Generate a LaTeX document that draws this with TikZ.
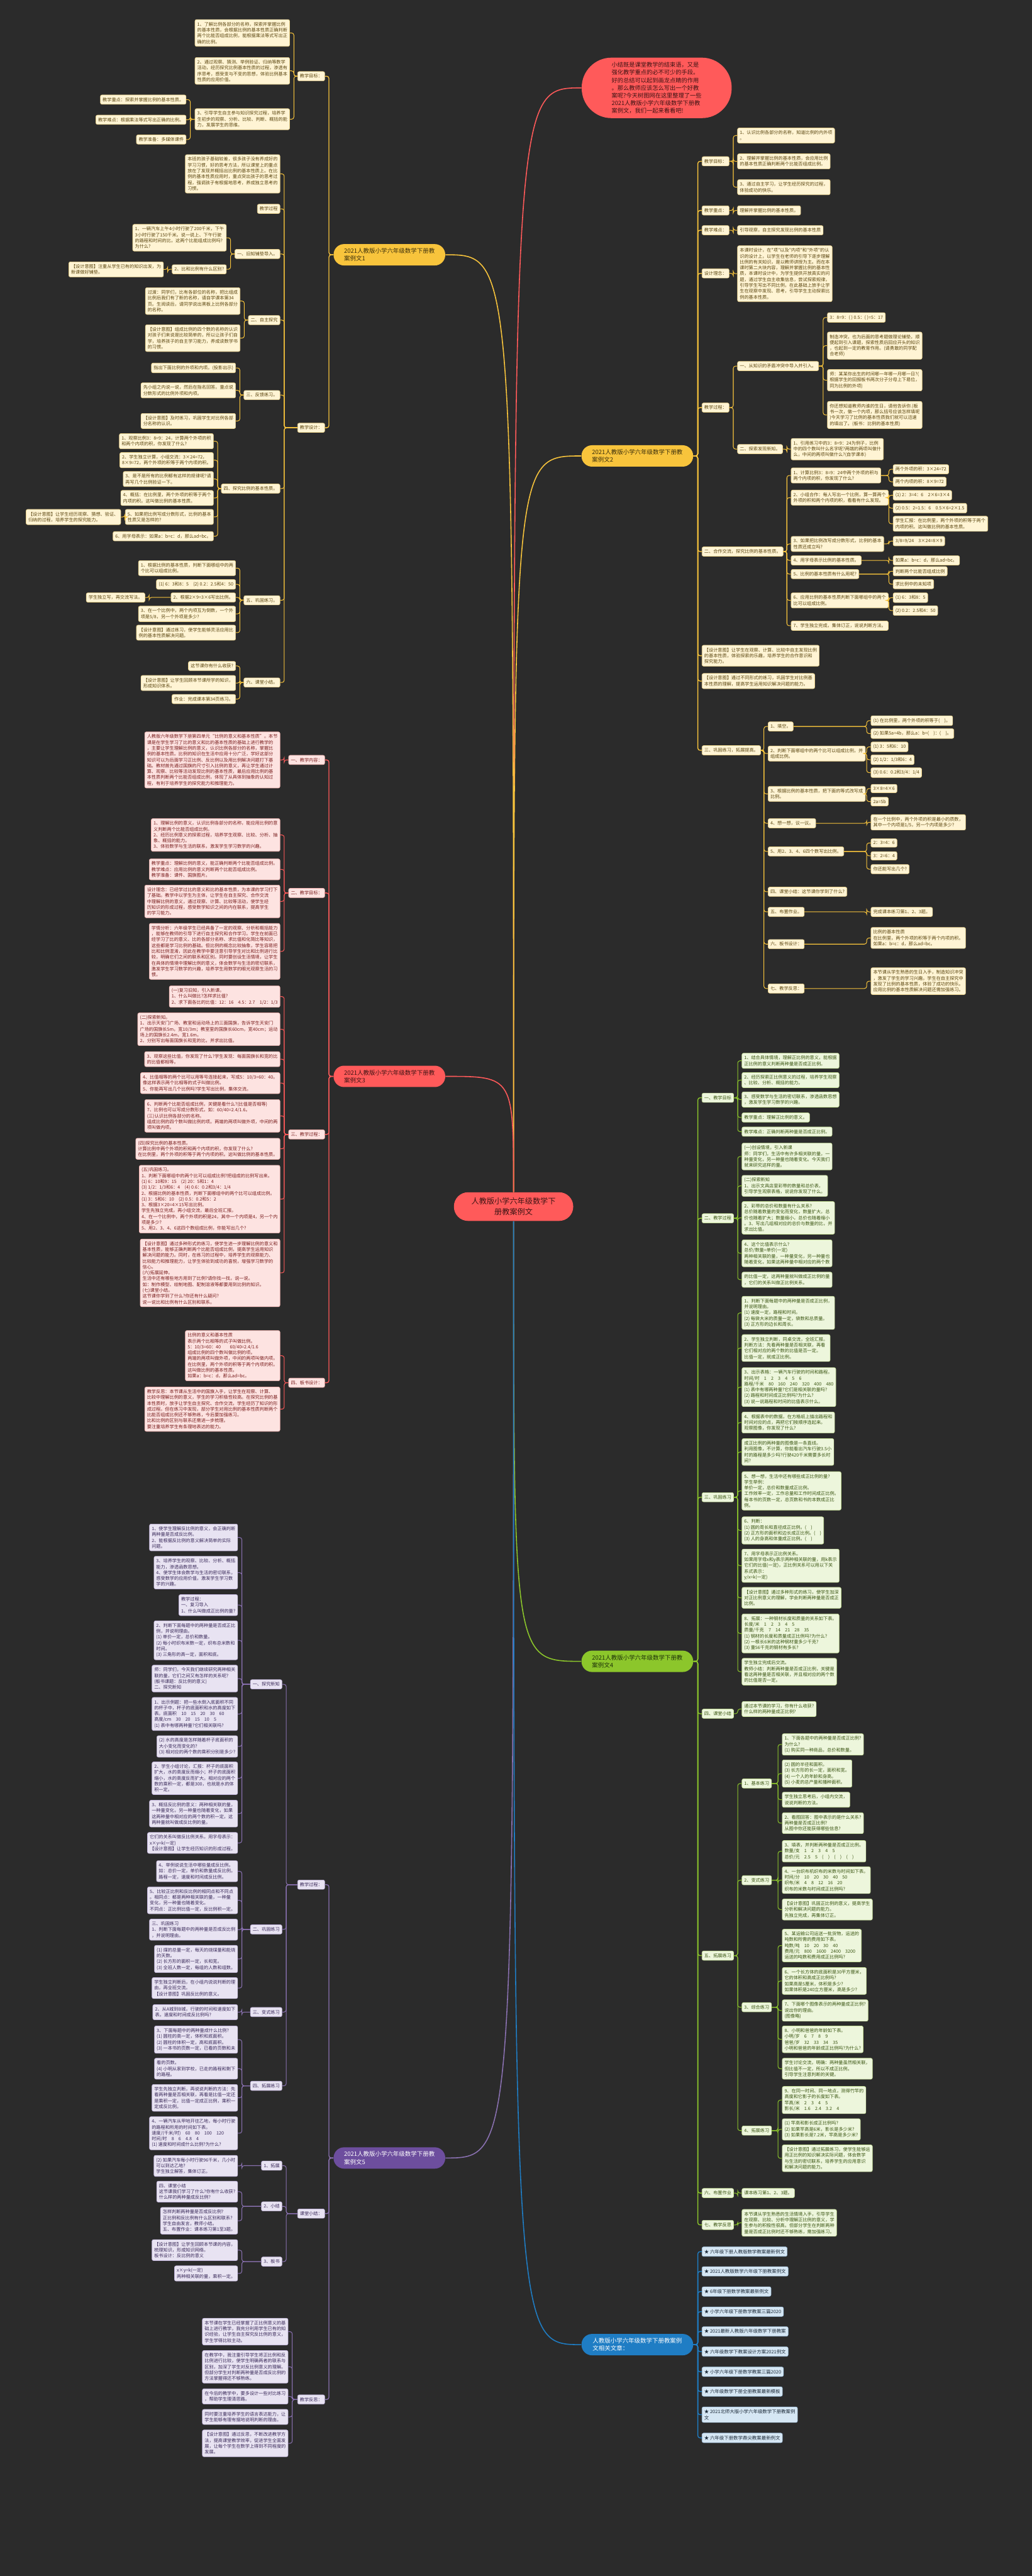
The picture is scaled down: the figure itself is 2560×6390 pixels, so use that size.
\documentclass[tikz,border=0pt]{standalone}
\usepackage{fontspec}
\newfontfamily\cjk{Noto Sans CJK SC}
\definecolor{bgc}{HTML}{2B2B2B}
\definecolor{yl}{HTML}{F8C43C}
\definecolor{ylf}{HTML}{FFF4D4}
\definecolor{ylt}{HTML}{5A4610}
\definecolor{ylb}{HTML}{E9D08A}
\definecolor{ybt}{HTML}{3B2F0C}
\definecolor{rd}{HTML}{FF5A5A}
\definecolor{rdf}{HTML}{FDE3E1}
\definecolor{rdt}{HTML}{7A1E1E}
\definecolor{rdb}{HTML}{F2B3B0}
\definecolor{rbt}{HTML}{3D1414}
\definecolor{gr}{HTML}{8CC62B}
\definecolor{grf}{HTML}{EDF6DC}
\definecolor{grt}{HTML}{3A5512}
\definecolor{grb}{HTML}{C6DF98}
\definecolor{gbt}{HTML}{1E3209}
\definecolor{pu}{HTML}{6D4E9E}
\definecolor{puf}{HTML}{E8E3F2}
\definecolor{put}{HTML}{3A2A5A}
\definecolor{pub}{HTML}{C2B5DC}
\definecolor{bl}{HTML}{1F7DC4}
\definecolor{blf}{HTML}{D6E7F4}
\definecolor{blt}{HTML}{1C2A38}
\definecolor{blb}{HTML}{A6C8E4}
\tikzset{
  lf/.style={font=\cjk\fontsize{3.18pt}{4.12pt}\selectfont, rounded corners=1.1pt,
     inner xsep=1.6pt, inner ysep=1.8pt, align=left, line width=0.3pt},
  ly/.style={lf, fill=ylf, draw=ylb, text=ylt},
  lr/.style={lf, fill=rdf, draw=rdb, text=rdt},
  lg/.style={lf, fill=grf, draw=grb, text=grt},
  lp/.style={lf, fill=puf, draw=pub, text=put},
  lb/.style={lf, fill=blf, draw=blb, text=blt, font=\cjk\fontsize{3.3pt}{4.3pt}\selectfont},
  brn/.style={font=\cjk\fontsize{4.2pt}{5.4pt}\selectfont, align=left, minimum width=27.7mm,
     minimum height=5.3mm, rounded corners=2.6mm, inner xsep=2.6mm, inner ysep=0.5mm},
  lnY/.style={draw=yl, line width=0.45pt, rounded corners=1.6pt},
  lnR/.style={draw=rd, line width=0.45pt, rounded corners=1.6pt},
  lnG/.style={draw=gr, line width=0.45pt, rounded corners=1.6pt},
  lnP/.style={draw=pu!80!white, line width=0.45pt, rounded corners=1.6pt},
  lnB/.style={draw=bl, line width=0.45pt, rounded corners=1.6pt},
  mY/.style={lnY, line width=0.6pt},
  mR/.style={lnR, line width=0.6pt},
  mG/.style={lnG, line width=0.6pt},
  mP/.style={lnP, line width=0.6pt},
  mB/.style={lnB, line width=0.6pt},
}
\newcommand\Lx[5]{\node[#1,anchor=north east] (#2) at (#3,#4) {#5};}
\newcommand\Rx[5]{\node[#1,anchor=north west] (#2) at (#3,#4) {#5};}
\newcommand\Lc[3]{\draw[#1] (#3.east) -- ++(10,0) |- (#2.west);}
\newcommand\Rc[3]{\draw[#1] (#3.west) -- ++(-10,0) |- (#2.east);}
\begin{document}
\begin{tikzpicture}[x=0.1mm,y=-0.1mm]
\fill[bgc] (0,0) rectangle (2560,6390);
\useasboundingbox (0,0) rectangle (2560,6390);

% ---------- main nodes ----------
\node[font=\cjk\fontsize{4.1pt}{5.4pt}\selectfont, align=left, fill=rd, text=rbt,
  minimum width=37.2mm, minimum height=15mm, rounded corners=7.4mm, inner sep=0pt] (top) at (1629,218)
  {小结既是课堂教学的结束语，又是\\强化教学重点的必不可少的手段。\\好的总结可以起到画龙点睛的作用\\。那么教师应该怎么写出一个好教\\案呢?今天树图网在这里整理了一些\\2021人教版小学六年级数学下册教\\案例文，我们一起来看看吧!};
\node[font=\cjk\fontsize{5.4pt}{7.7pt}\selectfont, align=center, fill=rd, text=rbt,
  minimum width=29.6mm, minimum height=7.1mm, rounded corners=3.5mm, inner sep=0pt] (ctr) at (1274,2993)
  {人教版小学六年级数学下\\册教案例文};
\node[brn, fill=yl, text=ybt] (b1) at (966,632) {2021人教版小学六年级数学下册教\\案例文1};
\node[brn, fill=yl, text=ybt] (b2) at (1581,1131) {2021人教版小学六年级数学下册教\\案例文2};
\node[brn, fill=rd, text=rbt] (b3) at (966,2670) {2021人教版小学六年级数学下册教\\案例文3};
\node[brn, fill=gr, text=gbt] (b4) at (1581,4121) {2021人教版小学六年级数学下册教\\案例文4};
\node[brn, fill=pu, text=white] (b5) at (966,5353) {2021人教版小学六年级数学下册教\\案例文5};
\node[brn, fill=bl, text=white] (b6) at (1581,5816) {人教版小学六年级数学下册教案例\\文相关文章：};

% ---------- B1 ----------
\Lx{ly}{t1}{806}{177}{教学目标：}
\Lx{ly}{a1}{719}{48}{1、了解比例各部分的名称，探索并掌握比例\\的基本性质，会根据比例的基本性质正确判断\\两个比能否组成比例，能根据乘法等式写出正\\确的比例。}
\Lx{ly}{a2}{719}{142}{2、通过观察、猜测、举例验证、归纳等数学\\活动，经历探究比例基本性质的过程，渗透有\\序思考，感受变与不变的思想，体验比例基本\\性质的应用价值。}
\Lx{ly}{a3}{719}{269}{3、引导学生自主参与知识探究过程，培养学\\生初步的观察、分析、比较、判断、概括的能\\力，发展学生的思维。}
\Lx{ly}{k1}{462}{235}{教学重点：探索并掌握比例的基本性质。}
\Lx{ly}{k2}{462}{285}{教学难点：根据乘法等式写出正确的比例。}
\Lx{ly}{k3}{462}{334}{教学准备：多媒体课件}
\Lx{ly}{t2}{806}{1049}{教学设计：}
\Lx{ly}{d1}{695}{383}{本班的孩子基础较差，很多孩子没有养成好的\\学习习惯，好的思考方法，所以课堂上的重点\\放在了发现并概括出比例的基本性质上。在比\\例的基本性质应用时，重点突出孩子的思考过\\程，强调孩子有根据地思考，养成独立思考的\\习惯。}
\Lx{ly}{d2}{695}{506}{教学过程}
\Lx{ly}{d3}{695}{618}{一、旧知铺垫导入。}
\Lx{ly}{e1}{562}{556}{1、一辆汽车上午4小时行驶了200千米，下午\\3小时行驶了150千米。说一说上、下午行驶\\的路程和时间的比，这两个比能组成比例吗?\\为什么?}
\Lx{ly}{e2}{562}{656}{2、比和比例有什么区别?}
\Lx{ly}{e3}{406}{649}{【设计意图】注重从学生已有的知识出发，为\\新课做好铺垫。}
\Lx{ly}{d4}{695}{782}{二、自主探究}
\Lx{ly}{f1}{596}{713}{过渡：同学们，比有各部位的名称，把比组成\\比例后我们有了新的名称，请自学课本第34\\页。生阅读后，请同学说出黑板上比例各部分\\的名称。}
\Lx{ly}{f2}{596}{805}{【设计意图】组成比例的四个数的名称的认识\\对孩子们来说是比较简单的，所以让孩子们自\\学，培养孩子的自主学习能力，养成读数学书\\的习惯。}
\Lx{ly}{d5}{695}{968}{三、反馈练习。}
\Lx{ly}{g1}{585}{900}{指出下面比例的外项和内项。(投影出示)}
\Lx{ly}{g2}{585}{949}{先小组之内说一说，然后在指名回答。重点说\\分数形式的比例外项和内项。}
\Lx{ly}{g3}{585}{1025}{【设计意图】及时练习，巩固学生对比例各部\\分名称的认识。}
\Lx{ly}{d6}{695}{1200}{四、探究比例的基本性质。}
\Lx{ly}{h1}{530}{1075}{1、观察比例3：8=9：24，计算两个外项的积\\和两个内项的积，你发现了什么?}
\Lx{ly}{h2}{530}{1122}{2、学生独立计算，小组交流：3×24=72，\\8×9=72，两个外项的积等于两个内项的积。}
\Lx{ly}{h3}{530}{1169}{3、是不是所有的比例都有这样的规律呢?请\\再写几个比例验证一下。}
\Lx{ly}{h4}{530}{1216}{4、概括：在比例里，两个外项的积等于两个\\内项的积。这叫做比例的基本性质。}
\Lx{ly}{h5}{530}{1263}{5、如果把比例写成分数形式，比例的基本\\性质又是怎样的?}
\Lx{ly}{h6}{300}{1263}{【设计意图】让学生经历观察、猜想、验证、\\归纳的过程，培养学生的探究能力。}
\Lx{ly}{h7}{530}{1318}{6、用字母表示：如果a：b=c：d，那么ad=bc。}
\Lx{ly}{d7}{695}{1477}{五、巩固练习。}
\Lx{ly}{i1}{585}{1390}{1、根据比例的基本性质，判断下面哪组中的两\\个比可以组成比例。}
\Lx{ly}{i2}{585}{1437}{(1) 6：3和8：5　(2) 0.2：2.5和4：50}
\Lx{ly}{i3}{585}{1470}{2、根据2×9=3×6写出比例。}
\Lx{ly}{i3b}{360}{1470}{学生独立写，再交流写法。}
\Lx{ly}{i4}{585}{1503}{3、在一个比例中，两个内项互为倒数，一个外\\项是5/8，另一个外项是多少?}
\Lx{ly}{i5}{585}{1550}{【设计意图】通过练习，使学生能够灵活应用比\\例的基本性质解决问题。}
\Lx{ly}{d8}{695}{1681}{六、课堂小结。}
\Lx{ly}{j1}{585}{1640}{这节课你有什么收获?}
\Lx{ly}{j2}{585}{1675}{【设计意图】让学生回顾本节课所学的知识，\\形成知识体系。}
\Lx{ly}{j3}{585}{1722}{作业：完成课本第34页练习。}

% ---------- B2 ----------
\Rx{ly}{u1}{1741}{388}{教学目标：}
\Rx{ly}{v1}{1829}{317}{1、认识比例各部分的名称，知道比例的内外项\\。}
\Rx{ly}{v2}{1829}{381}{2、理解并掌握比例的基本性质，会应用比例\\的基本性质正确判断两个比能否组成比例。}
\Rx{ly}{v3}{1829}{445}{3、通过自主学习，让学生经历探究的过程，\\体验成功的快乐。}
\Rx{ly}{u2}{1741}{510}{教学重点：}
\Rx{ly}{v4}{1829}{510}{理解并掌握比例的基本性质。}
\Rx{ly}{u3}{1741}{559}{教学难点：}
\Rx{ly}{v5}{1829}{559}{引导观察，自主探究发现比例的基本性质}
\Rx{ly}{u4}{1741}{666}{设计理念：}
\Rx{ly}{v6}{1829}{609}{本课时设计，在"项"以及"内项"和"外项"的认\\识的设计上，以学生在老师的引导下逐步理解\\比例的有关知识，是以教师讲授为主。而在本\\课时第二大块内容，理解并掌握比例的基本性\\质，本课时设计中，为学生提供开放真实的问\\题，通过学生自主收集信息，尝试探索规律，\\引导学生写出不同比例，在此基础上放手让学\\生在观察中发现、思考，引导学生主动探索比\\例的基本性质。}
\Rx{ly}{u5}{1741}{999}{教学过程：}
\Rx{ly}{w1}{1829}{896}{一、从知识的矛盾冲突中导入并引入。}
\Rx{ly}{x1}{2052}{775}{3：8=9：( ) 0.5：( )=5：17}
\Rx{ly}{x2}{2052}{823}{制造冲突，也为后面的思考题做理论铺垫，顺\\便起到引入课题，探索性质后回应开头的知识\\，也起到一定的教育作用。(请勇敢的同学配\\合老师)}
\Rx{ly}{x3}{2052}{916}{师：某某你出生的时间哪一年哪一月哪一日?(\\根据学生的回报板书两次分子分母上下易位，\\同为比例的外项)}
\Rx{ly}{x4}{2052}{995}{你还想知道教师内谁的生日，请他告诉你.(板\\书一次，做一个内项，那么括号应该怎样填呢\\)今天学习了比例的基本性质我们就可以迅速\\的填出了。(板书：比例的基本性质)}
\Rx{ly}{w2}{1829}{1102}{二、探索发现新知。}
\Rx{ly}{y1}{1962}{1087}{1、引用练习中的3：8=9：24为例子，比例\\中的四个数叫什么名字呢?两端的两项叫做什\\么，中间的两项叫做什么?(自学课本)}
\Rx{ly}{u6}{1741}{1356}{二、合作交流，探究比例的基本性质。}
\Rx{ly}{z1}{1962}{1160}{1、计算比例3：8=9：24中两个外项的积与\\两个内项的积，你发现了什么?}
\Rx{ly}{zz1}{2215}{1152}{两个外项的积：3×24=72}
\Rx{ly}{zz2}{2215}{1183}{两个内项的积：8×9=72}
\Rx{ly}{z2}{1962}{1215}{2、小组合作：每人写出一个比例，算一算两个\\外项的积和两个内项的积，看看有什么发现。}
\Rx{ly}{zz3}{2215}{1216}{(1) 2：3=4：6　2×6=3×4}
\Rx{ly}{zz4}{2215}{1248}{(2) 0.5：2=1.5：6　0.5×6=2×1.5}
\Rx{ly}{zz5}{2215}{1280}{学生汇报：在比例里，两个外项的积等于两个\\内项的积。这叫做比例的基本性质。}
\Rx{ly}{z3}{1962}{1330}{3、如果把比例改写成分数形式，比例的基本\\性质还成立吗?}
\Rx{ly}{zz6}{2215}{1330}{3/8=9/24　3×24=8×9}
\Rx{ly}{z4}{1962}{1378}{4、用字母表示比例的基本性质。}
\Rx{ly}{zz7}{2215}{1378}{如果a：b=c：d，那么ad=bc。}
\Rx{ly}{z5}{1962}{1412}{5、比例的基本性质有什么用呢?}
\Rx{ly}{zz8}{2215}{1405}{判断两个比能否组成比例}
\Rx{ly}{zz9}{2215}{1437}{求比例中的未知项}
\Rx{ly}{z6}{1962}{1470}{6、应用比例的基本性质判断下面哪组中的两个\\比可以组成比例。}
\Rx{ly}{zz10}{2215}{1470}{(1) 6：3和8：5}
\Rx{ly}{zz11}{2215}{1502}{(2) 0.2：2.5和4：50}
\Rx{ly}{z7}{1962}{1540}{7、学生独立完成，集体订正，说说判断方法。}
\Rx{ly}{u7}{1741}{1600}{【设计意图】让学生在观察、计算、比较中自主发现比例\\的基本性质，体验探索的乐趣，培养学生的合作意识和\\探究能力。}
\Rx{ly}{u8}{1741}{1670}{【设计意图】通过不同形式的练习，巩固学生对比例基\\本性质的理解，提高学生运用知识解决问题的能力。}
\Rx{ly}{u9}{1741}{1849}{三、巩固练习，拓展提高。}
\Rx{ly}{s1}{1905}{1790}{1、填空。}
\Rx{ly}{ss1}{2160}{1775}{(1) 在比例里，两个外项的积等于(　)。}
\Rx{ly}{ss2}{2160}{1807}{(2) 如果5a=4b，那么a：b=(　)：(　)。}
\Rx{ly}{s2}{1905}{1850}{2、判断下面哪组中的两个比可以组成比例，并\\组成比例。}
\Rx{ly}{ss3}{2160}{1840}{(1) 3：5和6：10}
\Rx{ly}{ss4}{2160}{1872}{(2) 1/2：1/3和6：4}
\Rx{ly}{ss5}{2160}{1904}{(3) 0.6：0.2和3/4：1/4}
\Rx{ly}{s3}{1905}{1950}{3、根据比例的基本性质，把下面的等式改写成\\比例。}
\Rx{ly}{ss6}{2160}{1945}{3×8=4×6}
\Rx{ly}{ss7}{2160}{1977}{2a=5b}
\Rx{ly}{s4}{1905}{2030}{4、想一想，议一议。}
\Rx{ly}{ss8}{2160}{2020}{在一个比例中，两个外项的积是最小的质数，\\其中一个内项是1/5，另一个内项是多少?}
\Rx{ly}{s5}{1905}{2100}{5、用2、3、4、6四个数写出比例。}
\Rx{ly}{ss9}{2160}{2080}{2：3=4：6}
\Rx{ly}{ss10}{2160}{2112}{3：2=6：4}
\Rx{ly}{ss11}{2160}{2144}{你还能写出几个?}
\Rx{ly}{s6}{1905}{2200}{四、课堂小结：这节课你学到了什么?}
\Rx{ly}{s7}{1905}{2250}{五、布置作业。}
\Rx{ly}{ss12}{2160}{2250}{完成课本练习第1、2、3题。}
\Rx{ly}{s8}{1905}{2330}{六、板书设计：}
\Rx{ly}{ss13}{2160}{2300}{比例的基本性质\\在比例里，两个外项的积等于两个内项的积。\\如果a：b=c：d，那么ad=bc。}
\Rx{ly}{s9}{1905}{2440}{七、教学反思：}
\Rx{ly}{ss14}{2160}{2400}{本节课从学生熟悉的生日入手，制造知识冲突\\，激发了学生的学习兴趣。学生在自主探究中\\发现了比例的基本性质，体验了成功的快乐。\\应用比例的基本性质解决问题还需加强练习。}

% ---------- B3 ----------
\Lx{lr}{r1}{806}{1873}{一、教学内容：}
\Lx{lr}{rc1}{695}{1815}{人教版六年级数学下册第四单元“比例的意义和基本性质”。本节\\课是在学生学习了比的意义和比的基本性质的基础上进行教学的\\，主要让学生理解比例的意义，认识比例各部分的名称，掌握比\\例的基本性质。比例的知识在生活中应用十分广泛，学好这部分\\知识可以为后面学习正比例、反比例以及用比例解决问题打下基\\础。教材首先通过国旗的尺寸引入比例的意义，再让学生通过计\\算、观察、比较等活动发现比例的基本性质，最后应用比例的基\\本性质判断两个比能否组成比例，体现了从具体到抽象的认知过\\程，有利于培养学生的探究能力和推理能力。}
\Lx{lr}{r2}{806}{2203}{二、教学目标：}
\Lx{lr}{rc2}{695}{2030}{1、理解比例的意义，认识比例各部分的名称，能应用比例的意\\义判断两个比能否组成比例。\\2、经历比例意义的探索过程，培养学生观察、比较、分析、抽\\象、概括的能力。\\3、体验数学与生活的联系，激发学生学习数学的兴趣。}
\Lx{lr}{rc3}{695}{2130}{教学重点：理解比例的意义，能正确判断两个比能否组成比例。\\教学难点：应用比例的意义判断两个比能否组成比例。\\教学准备：课件、国旗图片。}
\Lx{lr}{rc4}{695}{2195}{设计理念：已经学过比的意义和比的基本性质，为本课的学习打下\\了基础。教学中以学生为主体，让学生在自主探究、合作交流\\中理解比例的意义，通过观察、计算、比较等活动，使学生经\\历知识的形成过程，感受数学知识之间的内在联系，提高学生\\的学习能力。}
\Lx{lr}{rc5}{695}{2290}{学情分析：六年级学生已经具备了一定的观察、分析和概括能力\\，能够在教师的引导下进行自主探究和合作学习。学生在前面已\\经学习了比的意义、比的各部分名称、求比值和化简比等知识，\\这些都是学习比例的基础。但比例的概念比较抽象，学生容易把\\比和比例混淆，因此在教学中要注意引导学生对比和比例进行比\\较，明确它们之间的联系和区别。同时要创设生活情境，让学生\\在具体的情境中理解比例的意义，体会数学与生活的密切联系，\\激发学生学习数学的兴趣，培养学生用数学的眼光观察生活的习\\惯。}
\Lx{lr}{r3}{806}{2802}{三、教学过程：}
\Lx{lr}{rc6}{695}{2445}{(一)复习旧知，引入新课。\\1、什么叫做比?怎样求比值?\\2、求下面各比的比值：12：16　4.5：2.7　1/2：1/3}
\Lx{lr}{rc7}{695}{2512}{(二)探索新知。\\1、出示天安门广场、教室和运动场上的三面国旗，告诉学生天安门\\广场的国旗长5m，宽10/3m；教室里的国旗长60cm，宽40cm；运动\\场上的国旗长2.4m，宽1.6m。\\2、分别写出每面国旗长和宽的比，并求出比值。}
\Lx{lr}{rc8}{695}{2608}{3、观察这些比值，你发现了什么?学生发现：每面国旗长和宽的比\\的比值都相等。}
\Lx{lr}{rc9}{695}{2660}{4、比值相等的两个比可以用等号连接起来，写成5：10/3=60：40。\\像这样表示两个比相等的式子叫做比例。\\5、你能再写出几个比例吗?学生写出比例，集体交流。}
\Lx{lr}{rc10}{695}{2727}{6、判断两个比能否组成比例，关键是看什么?(比值是否相等)\\7、比例也可以写成分数形式，如：60/40=2.4/1.6。\\(三)认识比例各部分的名称。\\组成比例的四个数叫做比例的项。两端的两项叫做外项，中间的两\\项叫做内项。}
\Lx{lr}{rc11}{695}{2823}{(四)探究比例的基本性质。\\计算比例中两个外项的积和两个内项的积，你发现了什么?\\在比例里，两个外项的积等于两个内项的积。这叫做比例的基本性质。}
\Lx{lr}{rc12}{695}{2890}{(五)巩固练习。\\1、判断下面哪组中的两个比可以组成比例?把组成的比例写出来。\\(1) 6：10和9：15　(2) 20：5和1：4\\(3) 1/2：1/3和6：4　(4) 0.6：0.2和3/4：1/4\\2、根据比例的基本性质，判断下面哪组中的两个比可以组成比例。\\(1) 3：5和6：10　(2) 0.5：0.2和5：2\\3、根据3×20=4×15写出比例。\\学生先独立完成，再小组交流，最后全班汇报。\\4、在一个比例中，两个外项的积是24，其中一个内项是4，另一个内\\项是多少?\\5、用2、3、4、6这四个数组成比例，你能写出几个?}
\Lx{lr}{rc13}{695}{3073}{【设计意图】通过多种形式的练习，使学生进一步理解比例的意义和\\基本性质，能够正确判断两个比能否组成比例，提高学生运用知识\\解决问题的能力。同时，在练习的过程中，培养学生的观察能力、\\比较能力和推理能力，让学生体验到成功的喜悦，增强学习数学的\\信心。\\(六)拓展延伸。\\生活中还有哪些地方用到了比例?请你找一找，说一说。\\如：制作模型、绘制地图、配制溶液等都要用到比例的知识。\\(七)课堂小结。\\这节课你学到了什么?你还有什么疑问?\\说一说比和比例有什么区别和联系。}
\Lx{lr}{r4}{806}{3418}{四、板书设计：}
\Lx{lr}{rc14}{695}{3300}{比例的意义和基本性质\\表示两个比相等的式子叫做比例。\\5：10/3=60：40　　60/40=2.4/1.6\\组成比例的四个数叫做比例的项。\\两端的两项叫做外项，中间的两项叫做内项。\\在比例里，两个外项的积等于两个内项的积。\\这叫做比例的基本性质。\\如果a：b=c：d，那么ad=bc。}
\Lx{lr}{rc15}{695}{3440}{教学反思：本节课从生活中的国旗入手，让学生在观察、计算、\\比较中理解比例的意义，学生的学习积极性较高。在探究比例的基\\本性质时，放手让学生自主探究、合作交流，学生经历了知识的形\\成过程。但在练习中发现，部分学生对用比例的基本性质判断两个\\比能否组成比例还不够熟练，今后要加强练习。\\比和比例的区别与联系还需进一步梳理。\\要注重培养学生有条理地表达的能力。}

% ---------- B4 ----------
\Rx{lg}{G1}{1741}{2711}{一、教学目标}
\Rx{lg}{gc1}{1840}{2612}{1、结合具体情境，理解正比例的意义，能根据\\正比例的意义判断两种量是否成正比例。}
\Rx{lg}{gc2}{1840}{2660}{2、经历探索正比例意义的过程，培养学生观察\\、比较、分析、概括的能力。}
\Rx{lg}{gc3}{1840}{2708}{3、感受数学与生活的密切联系，渗透函数思想\\，激发学生学习数学的兴趣。}
\Rx{lg}{gc4}{1840}{2760}{教学重点：理解正比例的意义。}
\Rx{lg}{gc5}{1840}{2795}{教学难点：正确判断两种量是否成正比例。}
\Rx{lg}{G2}{1741}{3010}{二、教学过程}
\Rx{lg}{gc6}{1840}{2835}{(一)创设情境，引入新课\\师：同学们，生活中有许多相关联的量，一\\种量变化，另一种量也随着变化。今天我们\\就来研究这样的量。}
\Rx{lg}{gc7}{1840}{2915}{(二)探索新知\\1、出示文具店里彩带的数量和总价表，\\引导学生观察表格，说说你发现了什么。}
\Rx{lg}{gc8}{1840}{2980}{2、彩带的总价和数量有什么关系?\\总价随着数量的变化而变化，数量扩大，总\\价也随着扩大；数量缩小，总价也随着缩小\\。3、写出几组相对应的总价与数量的比，并\\求出比值。}
\Rx{lg}{gc9}{1840}{3075}{4、这个比值表示什么?\\总价/数量=单价(一定)\\两种相关联的量，一种量变化，另一种量也\\随着变化，如果这两种量中相对应的两个数}
\Rx{lg}{gc10}{1840}{3155}{的比值一定，这两种量就叫做成正比例的量\\，它们的关系叫做正比例关系。}
\Rx{lg}{G3}{1741}{3702}{三、巩固练习}
\Rx{lg}{gc11}{1840}{3215}{1、判断下面每题中的两种量是否成正比例，\\并说明理由。\\(1) 速度一定，路程和时间。\\(2) 每袋大米的质量一定，袋数和总质量。\\(3) 正方形的边长和周长。}
\Rx{lg}{gc12}{1840}{3310}{2、学生独立判断，同桌交流，全班汇报。\\判断方法：先看两种量是否相关联，再看\\它们相对应的两个数的比值是否一定。\\比值一定，就成正比例。}
\Rx{lg}{gc13}{1840}{3392}{3、出示表格：一辆汽车行驶的时间和路程。\\时间/时　1　2　3　4　5　6\\路程/千米　80　160　240　320　400　480\\(1) 表中有哪两种量?它们是相关联的量吗?\\(2) 路程和时间成正比例吗?为什么?\\(3) 说一说路程和时间的比值表示什么。}
\Rx{lg}{gc14}{1840}{3502}{4、根据表中的数据，在方格纸上描出路程和\\时间对应的点，再把它们按顺序连起来。\\观察图像，你发现了什么?}
\Rx{lg}{gc15}{1840}{3568}{成正比例的两种量的图像是一条直线。\\利用图像，不计算，你能看出汽车行驶3.5小\\时的路程是多少吗?行驶420千米需要多长时\\间?}
\Rx{lg}{gc16}{1840}{3650}{5、想一想，生活中还有哪些成正比例的量?\\学生举例：\\单价一定，总价和数量成正比例。\\工作效率一定，工作总量和工作时间成正比例。\\每本书的页数一定，总页数和书的本数成正比\\例。}
\Rx{lg}{gc17}{1840}{3762}{6、判断：\\(1) 圆的周长和直径成正比例。(　)\\(2) 正方形的面积和边长成正比例。(　)\\(3) 人的身高和体重成正比例。(　)}
\Rx{lg}{gc18}{1840}{3842}{7、用字母表示正比例关系。\\如果用字母x和y表示两种相关联的量，用k表示\\它们的比值(一定)，正比例关系可以用以下关\\系式表示：\\y/x=k(一定)}
\Rx{lg}{gc19}{1840}{3937}{【设计意图】通过多种形式的练习，使学生加深\\对正比例意义的理解，学会判断两种量是否成正\\比例。}
\Rx{lg}{gc20}{1840}{4003}{8、拓展：一种钢材长度和质量的关系如下表。\\长度/米　1　2　3　4　5\\质量/千克　7　14　21　28　35\\(1) 钢材的长度和质量成正比例吗?为什么?\\(2) 一根长6米的这种钢材重多少千克?\\(3) 重56千克的钢材有多长?}
\Rx{lg}{gc21}{1840}{4113}{学生独立完成后交流。\\教师小结：判断两种量是否成正比例，关键是\\看这两种量是否相关联，并且相对应的两个数\\的比值是否一定。}
\Rx{lg}{G4}{1741}{4239}{四、课堂小结}
\Rx{lg}{gc22}{1840}{4220}{通过本节课的学习，你有什么收获?\\什么样的两种量成正比例?}
\Rx{lg}{G5}{1741}{4839}{五、拓展练习}
\Rx{lg}{S1}{1840}{4412}{1、基本练习}
\Rx{lg}{p41}{1940}{4300}{1、下面各题中的两种量是否成正比例?\\为什么?\\(1) 购买同一种商品，总价和数量。}
\Rx{lg}{p42}{1940}{4365}{(2) 圆的半径和面积。\\(3) 长方形的长一定，面积和宽。\\(4) 一个人的年龄和身高。\\(5) 小麦的总产量和播种面积。}
\Rx{lg}{p43}{1940}{4445}{学生独立思考后，小组内交流，\\说说判断的方法。}
\Rx{lg}{p44}{1940}{4496}{2、看图回答：图中表示的是什么关系?\\两种量是否成正比例?\\从图中你还能获得哪些信息?}
\Rx{lg}{S2}{1840}{4652}{2、变式练习}
\Rx{lg}{p45}{1940}{4565}{3、填表，并判断两种量是否成正比例。\\数量/支　1　2　3　4　5\\总价/元　2.5　5　(　)　(　)　(　)}
\Rx{lg}{p46}{1940}{4630}{4、一台织布机织布的米数与时间如下表。\\时间/分　10　20　30　40　50\\织布/米　4　8　12　16　20\\织布的米数与时间成正比例吗?}
\Rx{lg}{p47}{1940}{4710}{【设计意图】巩固正比例的意义，提高学生\\分析和解决问题的能力。\\先独立完成，再集体订正。}
\Rx{lg}{S3}{1840}{4967}{3、综合练习}
\Rx{lg}{p48}{1940}{4785}{5、某运输公司运送一批货物，运送的\\吨数和所需的费用如下表。\\吨数/吨　10　20　30　40\\费用/元　800　1600　2400　3200\\运送的吨数和费用成正比例吗?}
\Rx{lg}{p49}{1940}{4880}{6、一个长方体的底面积是30平方厘米，\\它的体积和高成正比例吗?\\如果高是5厘米，体积是多少?\\如果体积是240立方厘米，高是多少?}
\Rx{lg}{p50}{1940}{4960}{7、下面哪个图像表示的两种量成正比例?\\说出你的理由。\\(图像略)}
\Rx{lg}{p51}{1940}{5025}{8、小明和爸爸的年龄如下表。\\小明/岁　6　7　8　9\\爸爸/岁　32　33　34　35\\小明和爸爸的年龄成正比例吗?为什么?}
\Rx{lg}{p52}{1940}{5105}{学生讨论交流，明确：两种量虽然相关联，\\但比值不一定，所以不成正比例。\\引导学生注意判断的关键。}
\Rx{lg}{S4}{1840}{5273}{4、拓展练习}
\Rx{lg}{p53}{1940}{5175}{9、在同一时间、同一地点，测得竹竿的\\高度和它影子的长度如下表。\\竿高/米　2　3　4　5\\影长/米　1.6　2.4　3.2　4}
\Rx{lg}{p54}{1940}{5255}{(1) 竿高和影长成正比例吗?\\(2) 如果竿高是6米，影长是多少米?\\(3) 如果影长是7.2米，竿高是多少米?}
\Rx{lg}{p55}{1940}{5320}{【设计意图】通过拓展练习，使学生能够运\\用正比例的知识解决实际问题，体会数学\\与生活的密切联系，培养学生的应用意识\\和解决问题的能力。}
\Rx{lg}{G6}{1741}{5428}{六、布置作业}
\Rx{lg}{gc23}{1840}{5428}{课本练习第1、2、3题。}
\Rx{lg}{G7}{1741}{5507}{七、教学反思}
\Rx{lg}{gc24}{1840}{5480}{本节课从学生熟悉的生活情境入手，引导学生\\在观察、比较、分析中理解正比例的意义，学\\生参与的积极性很高。但部分学生在判断两种\\量是否成正比例时还不够熟练，需加强练习。}

% ---------- B5 ----------
\Lx{lp}{P1}{806}{4663}{教学过程：}
\Lx{lp}{Q1}{700}{4166}{一、探究新知}
\Lx{lp}{pc1}{590}{3780}{1、使学生理解反比例的意义，会正确判断\\两种量是否成反比例。\\2、能根据反比例的意义解决简单的实际\\问题。}
\Lx{lp}{pc2}{590}{3860}{3、培养学生的观察、比较、分析、概括\\能力，渗透函数思想。\\4、使学生体会数学与生活的密切联系，\\感受数学的应用价值，激发学生学习数\\学的兴趣。}
\Lx{lp}{pc3}{590}{3955}{教学过程：\\一、复习导入\\1、什么叫做成正比例的量?}
\Lx{lp}{pc4}{590}{4020}{2、判断下面每题中的两种量是否成正比\\例，并说明理由。\\(1) 单价一定，总价和数量。\\(2) 每小时织布米数一定，织布总米数和\\时间。\\(3) 三角形的高一定，面积和底。}
\Lx{lp}{pc5}{590}{4130}{师：同学们，今天我们继续研究两种相关\\联的量，它们之间又有怎样的关系呢?\\(板书课题：反比例的意义)\\二、探究新知}
\Lx{lp}{pc6}{590}{4210}{1、出示例题：把一些水倒入底面积不同\\的杯子中，杯子的底面积和水的高度如下\\表。底面积　10　15　20　30　60\\高度/cm　30　20　15　10　5\\(1) 表中有哪两种量?它们相关联吗?}
\Lx{lp}{pc7}{590}{4305}{(2) 水的高度是怎样随着杯子底面积的\\大小变化而变化的?\\(3) 相对应的两个数的乘积分别是多少?}
\Lx{lp}{pc8}{590}{4370}{2、学生小组讨论，汇报：杯子的底面积\\扩大，水的高度反而缩小；杯子的底面积\\缩小，水的高度反而扩大。相对应的两个\\数的乘积一定，都是300，也就是水的体\\积一定。}
\Lx{lp}{pc9}{590}{4465}{3、概括反比例的意义：两种相关联的量，\\一种量变化，另一种量也随着变化，如果\\这两种量中相对应的两个数的积一定，这\\两种量就叫做成反比例的量。}
\Lx{lp}{pc10}{590}{4545}{它们的关系叫做反比例关系。用字母表示：\\x×y=k(一定)\\【设计意图】让学生经历知识的形成过程。}
\Lx{lp}{Q2}{700}{4774}{二、巩固练习}
\Lx{lp}{pc11}{590}{4615}{4、举例说说生活中哪些量成反比例。\\如：总价一定，单价和数量成反比例。\\路程一定，速度和时间成反比例。}
\Lx{lp}{pc12}{590}{4680}{5、比较正比例和反比例的相同点和不同点\\。相同点：都是两种相关联的量，一种量\\变化，另一种量也随着变化。\\不同点：正比例比值一定，反比例积一定。}
\Lx{lp}{pc13}{590}{4760}{三、巩固练习\\1、判断下面每题中的两种量是否成反比例\\，并说明理由。}
\Lx{lp}{pc14}{590}{4825}{(1) 煤的总量一定，每天的烧煤量和能烧\\的天数。\\(2) 长方形的面积一定，长和宽。\\(3) 全班人数一定，每组的人数和组数。}
\Lx{lp}{pc15}{590}{4905}{学生独立判断后，在小组内说说判断的理\\由，再全班交流。\\【设计意图】巩固反比例的意义。}
\Lx{lp}{Q3}{700}{4979}{三、变式练习}
\Lx{lp}{pc16}{590}{4972}{2、从A城到B城，行驶的时间和速度如下\\表。速度和时间成反比例吗?}
\Lx{lp}{Q4}{700}{5162}{四、拓展练习}
\Lx{lp}{pc17}{590}{5025}{3、下面每题中的两种量成什么比例?\\(1) 圆柱的高一定，体积和底面积。\\(2) 圆柱的体积一定，高和底面积。\\(3) 一本书的页数一定，已看的页数和未}
\Lx{lp}{pc18}{590}{5105}{看的页数。\\(4) 小明从家到学校，已走的路程和剩下\\的路程。}
\Lx{lp}{pc19}{590}{5170}{学生先独立判断，再说说判断的方法：先\\看两种量是否相关联，再看是比值一定还\\是乘积一定，比值一定成正比例，乘积一\\定成反比例。}
\Lx{lp}{pc20}{590}{5250}{4、一辆汽车从甲地开往乙地，每小时行驶\\的路程和所用的时间如下表。\\速度/(千米/时)　60　80　100　120\\时间/时　8　6　4.8　4\\(1) 速度和时间成什么比例?为什么?}
\Lx{lp}{P1b}{806}{5479}{课堂小结：}
\Lx{lp}{Q5}{700}{5360}{1、拓展}
\Lx{lp}{pc21}{590}{5346}{(2) 如果汽车每小时行驶96千米，几小时\\可以到达乙地?\\学生独立解答，集体订正。}
\Lx{lp}{Q6}{700}{5461}{2、小结}
\Lx{lp}{pc22}{590}{5410}{四、课堂小结\\这节课我们学习了什么?你有什么收获?\\什么样的两种量成反比例?}
\Lx{lp}{pc23}{590}{5475}{怎样判断两种量是否成反比例?\\正比例和反比例有什么区别和联系?\\学生自由发言，教师小结。\\五、布置作业：课本练习第1至3题。}
\Lx{lp}{Q7}{700}{5598}{3、板书}
\Lx{lp}{pc24}{590}{5555}{【设计意图】让学生回顾本节课的内容，\\梳理知识，形成知识网络。\\板书设计：反比例的意义}
\Lx{lp}{pc25}{590}{5620}{x×y=k(一定)\\两种相关联的量，乘积一定。}
\Lx{lp}{P2}{806}{5940}{教学反思：}
\Lx{lp}{pc26}{715}{5750}{本节课在学生已经掌握了正比例意义的基\\础上进行教学，我充分利用学生已有的知\\识经验，让学生自主探究反比例的意义，\\学生学得比较主动。}
\Lx{lp}{pc27}{715}{5830}{在教学中，我注重引导学生将正比例和反\\比例进行比较，使学生明确两者的联系与\\区别，加深了学生对反比例意义的理解。\\但部分学生对判断两种量是否成反比例的\\方法掌握得还不够熟练。}
\Lx{lp}{pc28}{715}{5925}{在今后的教学中，要多设计一些对比练习\\，帮助学生理清思路。}
\Lx{lp}{pc29}{715}{5976}{同时要注重培养学生的语言表达能力，让\\学生能够有理有据地说明判断的理由。}
\Lx{lp}{pc30}{715}{6027}{【设计意图】通过反思，不断改进教学方\\法，提高课堂教学效率，促进学生全面发\\展，让每个学生在数学上得到不同程度的\\发展。}

% ---------- B6 ----------
\Rx{lb}{rl1}{1741}{5573}{★ 六年级下册人教版数学教案最新例文}
\Rx{lb}{rl2}{1741}{5622}{★ 2021人教版数学六年级下册教案例文}
\Rx{lb}{rl3}{1741}{5672}{★ 6年级下册数学教案最新例文}
\Rx{lb}{rl4}{1741}{5722}{★ 小学六年级下册数学教案三篇2020}
\Rx{lb}{rl5}{1741}{5771}{★ 2021最新人教版六年级数学下册教案}
\Rx{lb}{rl6}{1741}{5821}{★ 六年级数学下教案设计方案2021例文}
\Rx{lb}{rl7}{1741}{5871}{★ 小学六年级下册数学教案三篇2020}
\Rx{lb}{rl8}{1741}{5920}{★ 六年级数学下册全册教案最新模板}
\Rx{lb}{rl9}{1741}{5970}{★ 2021北师大版小学六年级数学下册教案例\\文}
\Rx{lb}{rl10}{1741}{6035}{★ 六年级下册数学鼎尖教案最新例文}

% ---------- main curves ----------
\draw[mR, line width=0.7pt] (top.west) .. controls (1274,218) and (1274,218) .. (ctr.north);
\draw[mY, line width=0.7pt] (b1.east) .. controls (1274,632) and (1274,632) .. (ctr.north);
\draw[mY, line width=0.7pt] (b2.west) .. controls (1274,1131) and (1274,1131) .. (ctr.north);
\draw[mR, line width=0.7pt] (b3.east) .. controls (1274,2670) and (1274,2670) .. (ctr.north);
\draw[mG, line width=0.7pt] (ctr.south) .. controls (1274,4121) and (1274,4121) .. (b4.west);
\draw[mP, line width=0.7pt] (ctr.south) .. controls (1274,5353) and (1274,5353) .. (b5.east);
\draw[mB, line width=0.7pt] (ctr.south) .. controls (1274,5816) and (1274,5816) .. (b6.west);

% ---------- connectors B1 ----------
\foreach \c in {t1,t2} {\Lc{mY}{b1}{\c}}
\foreach \c in {a1,a2,a3} {\Lc{lnY}{t1}{\c}}
\foreach \c in {k1,k2,k3} {\Lc{lnY}{a3}{\c}}
\foreach \c in {d1,d2,d3,d4,d5,d6,d7,d8} {\Lc{lnY}{t2}{\c}}
\foreach \c in {e1,e2} {\Lc{lnY}{d3}{\c}}
\Lc{lnY}{e2}{e3}
\foreach \c in {f1,f2} {\Lc{lnY}{d4}{\c}}
\foreach \c in {g1,g2,g3} {\Lc{lnY}{d5}{\c}}
\foreach \c in {h1,h2,h3,h4,h5,h7} {\Lc{lnY}{d6}{\c}}
\Lc{lnY}{h5}{h6}
\foreach \c in {i1,i2,i3,i4,i5} {\Lc{lnY}{d7}{\c}}
\Lc{lnY}{i3}{i3b}
\foreach \c in {j1,j2,j3} {\Lc{lnY}{d8}{\c}}
% ---------- connectors B2 ----------
\foreach \c in {u1,u2,u3,u4,u5,u6,u7,u8,u9} {\Rc{mY}{b2}{\c}}
\foreach \c in {v1,v2,v3} {\Rc{lnY}{u1}{\c}}
\Rc{lnY}{u2}{v4} \Rc{lnY}{u3}{v5} \Rc{lnY}{u4}{v6}
\foreach \c in {w1,w2} {\Rc{lnY}{u5}{\c}}
\foreach \c in {x1,x2,x3,x4} {\Rc{lnY}{w1}{\c}}
\Rc{lnY}{w2}{y1}
\foreach \c in {z1,z2,z3,z4,z5,z6,z7} {\Rc{lnY}{u6}{\c}}
\foreach \c in {zz1,zz2} {\Rc{lnY}{z1}{\c}}
\foreach \c in {zz3,zz4,zz5} {\Rc{lnY}{z2}{\c}}
\Rc{lnY}{z3}{zz6} \Rc{lnY}{z4}{zz7}
\foreach \c in {zz8,zz9} {\Rc{lnY}{z5}{\c}}
\foreach \c in {zz10,zz11} {\Rc{lnY}{z6}{\c}}
\foreach \c in {s1,s2,s3,s4,s5,s6,s7,s8,s9} {\Rc{lnY}{u9}{\c}}
\foreach \c in {ss1,ss2} {\Rc{lnY}{s1}{\c}}
\foreach \c in {ss3,ss4,ss5} {\Rc{lnY}{s2}{\c}}
\foreach \c in {ss6,ss7} {\Rc{lnY}{s3}{\c}}
\Rc{lnY}{s4}{ss8}
\foreach \c in {ss9,ss10,ss11} {\Rc{lnY}{s5}{\c}}
\Rc{lnY}{s7}{ss12} \Rc{lnY}{s8}{ss13} \Rc{lnY}{s9}{ss14}
% ---------- connectors B3 ----------
\foreach \c in {r1,r2,r3,r4} {\Lc{mR}{b3}{\c}}
\Lc{lnR}{r1}{rc1}
\foreach \c in {rc2,rc3,rc4,rc5} {\Lc{lnR}{r2}{\c}}
\foreach \c in {rc6,rc7,rc8,rc9,rc10,rc11,rc12,rc13} {\Lc{lnR}{r3}{\c}}
\foreach \c in {rc14,rc15} {\Lc{lnR}{r4}{\c}}
% ---------- connectors B4 ----------
\foreach \c in {G1,G2,G3,G4,G5,G6,G7} {\Rc{mG}{b4}{\c}}
\foreach \c in {gc1,gc2,gc3,gc4,gc5} {\Rc{lnG}{G1}{\c}}
\foreach \c in {gc6,gc7,gc8,gc9,gc10} {\Rc{lnG}{G2}{\c}}
\foreach \c in {gc11,gc12,gc13,gc14,gc15,gc16,gc17,gc18,gc19,gc20,gc21} {\Rc{lnG}{G3}{\c}}
\Rc{lnG}{G4}{gc22}
\foreach \c in {S1,S2,S3,S4} {\Rc{lnG}{G5}{\c}}
\foreach \c in {p41,p42,p43,p44} {\Rc{lnG}{S1}{\c}}
\foreach \c in {p45,p46,p47} {\Rc{lnG}{S2}{\c}}
\foreach \c in {p48,p49,p50,p51,p52} {\Rc{lnG}{S3}{\c}}
\foreach \c in {p53,p54,p55} {\Rc{lnG}{S4}{\c}}
\Rc{lnG}{G6}{gc23} \Rc{lnG}{G7}{gc24}
% ---------- connectors B5 ----------
\foreach \c in {P1,P1b,P2} {\Lc{mP}{b5}{\c}}
\foreach \c in {Q1,Q2,Q3,Q4} {\Lc{lnP}{P1}{\c}}
\foreach \c in {pc1,pc2,pc3,pc4,pc5,pc6,pc7,pc8,pc9,pc10} {\Lc{lnP}{Q1}{\c}}
\foreach \c in {pc11,pc12,pc13,pc14,pc15} {\Lc{lnP}{Q2}{\c}}
\Lc{lnP}{Q3}{pc16}
\foreach \c in {pc17,pc18,pc19,pc20} {\Lc{lnP}{Q4}{\c}}
\foreach \c in {Q5,Q6,Q7} {\Lc{lnP}{P1b}{\c}}
\Lc{lnP}{Q5}{pc21}
\foreach \c in {pc22,pc23} {\Lc{lnP}{Q6}{\c}}
\foreach \c in {pc24,pc25} {\Lc{lnP}{Q7}{\c}}
\foreach \c in {pc26,pc27,pc28,pc29,pc30} {\Lc{lnP}{P2}{\c}}
% ---------- connectors B6 ----------
\foreach \c in {rl1,rl2,rl3,rl4,rl5,rl6,rl7,rl8,rl9,rl10} {\Rc{mB}{b6}{\c}}
\end{tikzpicture}
\end{document}
